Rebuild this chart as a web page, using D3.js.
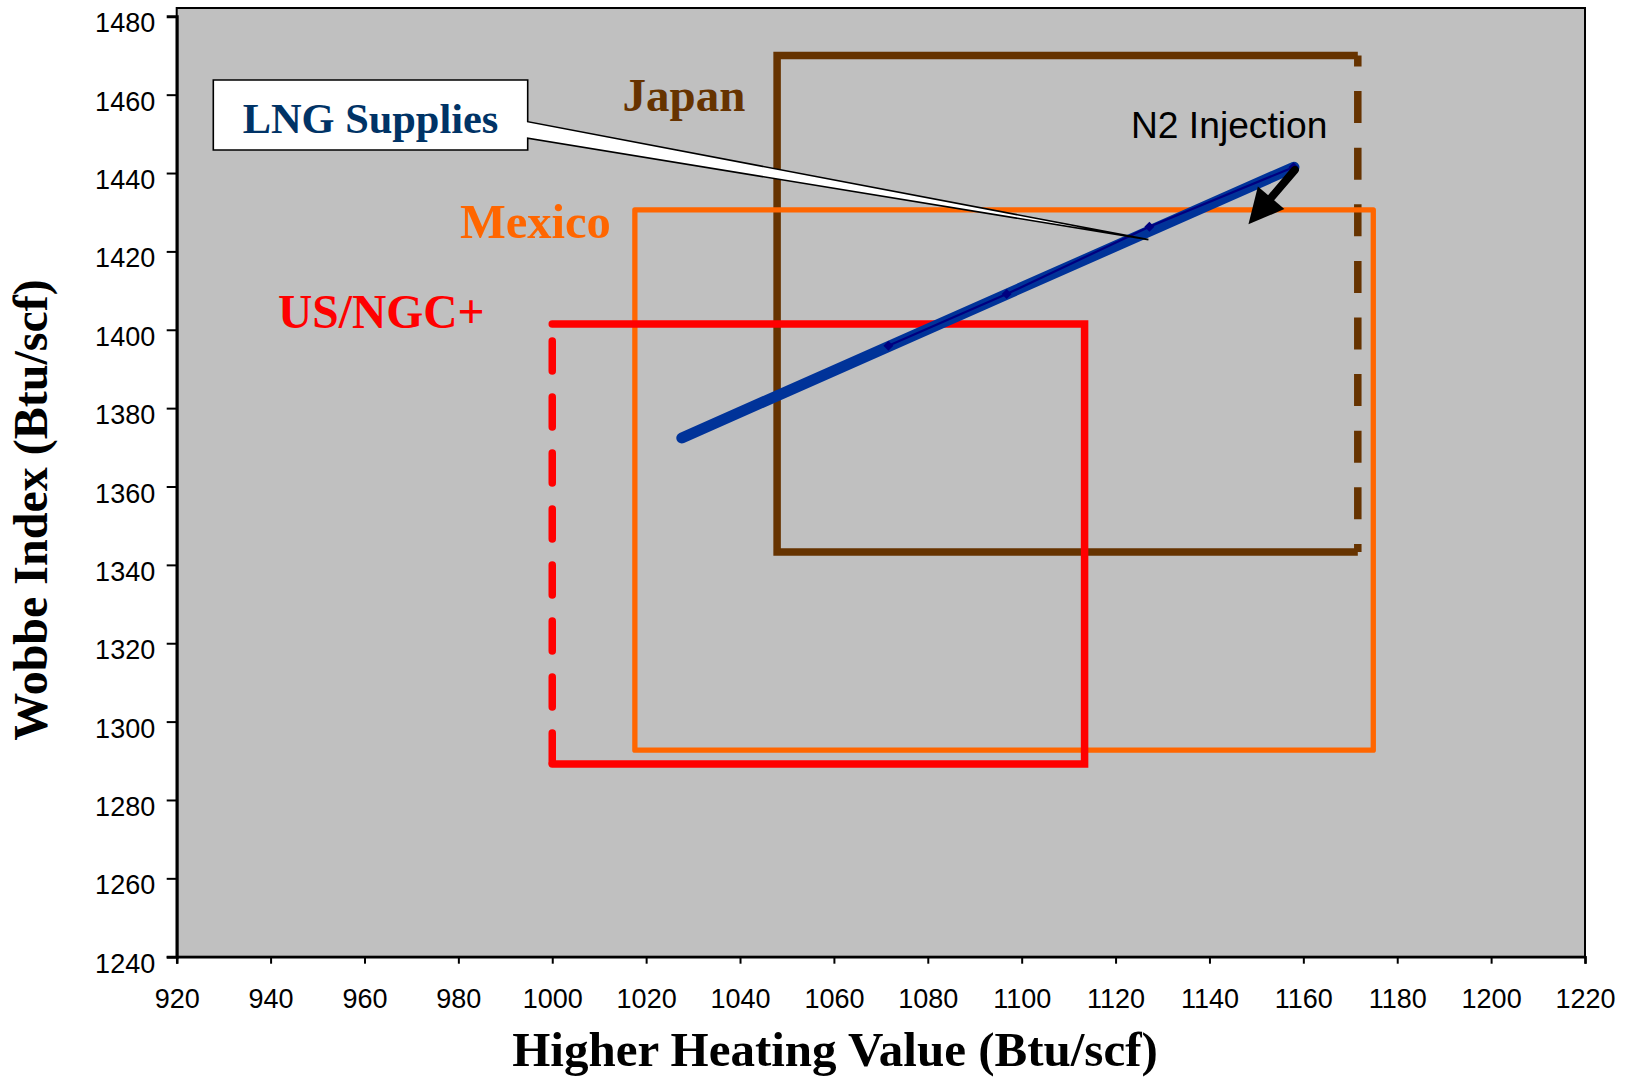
<!DOCTYPE html>
<html>
<head>
<meta charset="utf-8">
<script src="https://cdn.jsdelivr.net/npm/d3@7"></script>
<style>
  body { margin: 0; background: #ffffff; }
  svg { display: block; }
</style>
</head>
<body>
<svg id="chart" width="1627" height="1077"></svg>
<script>
// Axis tick values
const hhvTicks = [920, 940, 960, 980, 1000, 1020, 1040, 1060, 1080, 1100, 1120, 1140, 1160, 1180, 1200, 1220];
const wobbeTicks = [1240, 1260, 1280, 1300, 1320, 1340, 1360, 1380, 1400, 1420, 1440, 1460, 1480];

// Interchangeability windows: [min, max] of HHV and Wobbe index
const usHHV = [1000, 1113.4];
const usWobbe = [1289.2, 1401.5];
const mexicoHHV = [1017.6, 1174.9];
const mexicoWobbe = [1292.7, 1430.6];
const japanHHV = [1047.9, 1171.6];
const japanWobbe = [1343.3, 1470];

// LNG supply band (end points) and individual supply points
const lngHHV = [1027.6, 1158];
const lngWobbe = [1372.4, 1441.5];
const lngPointHHV = [1071.6, 1096.8, 1127.2, 1157.9];
const lngPointWobbe = [1395.9, 1409.1, 1426.3, 1441.5];

// Annotations (data coordinates)
const n2From = [1158.2, 1440.8];
const n2To = [1148.3, 1426.9];
const calloutTip = [1127, 1423];

const colors = {
  plot: "#c0c0c0",
  us: "#ff0000",
  mexico: "#ff6600",
  japan: "#663300",
  lng: "#003399",
  lngPts: "#000080",
  lngText: "#003366"
};

const svg = d3.select("#chart");
const plot = { left: 176.7, right: 1585, top: 8, bottom: 956.7 };

const x = d3.scaleLinear().domain([920, 1220]).range([plot.left, plot.right]);
const y = d3.scaleLinear().domain([1240, 1480]).range([plot.bottom, 16.3]);

// Plot area
svg.append("rect")
  .attr("x", plot.left).attr("y", plot.top)
  .attr("width", plot.right - plot.left).attr("height", plot.bottom - plot.top)
  .attr("fill", colors.plot)
  .attr("stroke", "#000").attr("stroke-width", 2);

// Axes
const xAxis = d3.axisBottom(x).tickValues(hhvTicks).tickSize(7).tickPadding(0).tickFormat(d3.format("d"));
const gx = svg.append("g").attr("transform", `translate(0,${plot.bottom})`).call(xAxis);
gx.select(".domain").attr("stroke", "#000").attr("stroke-width", 2.5);
gx.selectAll(".tick line").attr("stroke", "#000").attr("stroke-width", 2);
gx.selectAll(".tick text")
  .attr("y", 51.6).attr("dy", null)
  .attr("font-family", "'Liberation Sans', Arial, sans-serif")
  .attr("font-size", 27).attr("fill", "#000");

const yAxis = d3.axisLeft(y).tickValues(wobbeTicks).tickSize(10).tickPadding(0).tickFormat(d3.format("d"));
const gy = svg.append("g").attr("transform", `translate(${plot.left},0)`).call(yAxis);
gy.select(".domain").attr("stroke", "#000").attr("stroke-width", 3);
gy.selectAll(".tick line").attr("stroke", "#000").attr("stroke-width", 2);
gy.selectAll(".tick").filter(d => d === 1480).select("line").remove();
gy.selectAll(".tick text")
  .attr("x", -21.5).attr("dy", null).attr("y", 15.5)
  .attr("font-family", "'Liberation Sans', Arial, sans-serif")
  .attr("font-size", 27).attr("fill", "#000");

// Axis titles
svg.append("text")
  .attr("x", 835).attr("y", 1066)
  .attr("text-anchor", "middle")
  .attr("font-family", "'Liberation Serif', 'Times New Roman', serif")
  .attr("font-weight", "bold").attr("font-size", 49)
  .text("Higher Heating Value (Btu/scf)");

svg.append("text")
  .attr("transform", "translate(47,510) rotate(-90)")
  .attr("text-anchor", "middle")
  .attr("font-family", "'Liberation Serif', 'Times New Roman', serif")
  .attr("font-weight", "bold").attr("font-size", 48)
  .text("Wobbe Index (Btu/scf)");

const line = d3.line().x(d => x(d[0])).y(d => y(d[1]));

// Japan window: solid on three sides, dashed upper HHV limit
svg.append("path")
  .attr("d", line([[japanHHV[1], japanWobbe[1]], [japanHHV[0], japanWobbe[1]], [japanHHV[0], japanWobbe[0]], [japanHHV[1], japanWobbe[0]]]))
  .attr("fill", "none").attr("stroke", colors.japan).attr("stroke-width", 7.5)
  .attr("stroke-linejoin", "miter");
svg.append("path")
  .attr("d", line([[japanHHV[1], japanWobbe[1]], [japanHHV[1], japanWobbe[0]]]))
  .attr("fill", "none").attr("stroke", colors.japan).attr("stroke-width", 7.5)
  .attr("stroke-dasharray", "32,24.6").attr("stroke-dashoffset", 21);

// Mexico window
svg.append("path")
  .attr("d", line([[mexicoHHV[0], mexicoWobbe[1]], [mexicoHHV[1], mexicoWobbe[1]], [mexicoHHV[1], mexicoWobbe[0]], [mexicoHHV[0], mexicoWobbe[0]]]) + "Z")
  .attr("fill", "none").attr("stroke", colors.mexico).attr("stroke-width", 5.3)
  .attr("stroke-linejoin", "round");

// US/NGC+ window: dashed lower HHV limit
svg.append("path")
  .attr("d", line([[usHHV[0], usWobbe[1]], [usHHV[1], usWobbe[1]], [usHHV[1], usWobbe[0]], [usHHV[0], usWobbe[0]]]))
  .attr("fill", "none").attr("stroke", colors.us).attr("stroke-width", 7.5)
  .attr("stroke-linejoin", "miter").attr("stroke-linecap", "round");
svg.append("path")
  .attr("d", line([[usHHV[0], usWobbe[1]], [usHHV[0], usWobbe[0]]]))
  .attr("fill", "none").attr("stroke", colors.us).attr("stroke-width", 7.5)
  .attr("stroke-linecap", "round")
  .attr("stroke-dasharray", "30,26").attr("stroke-dashoffset", 39);

// LNG supply band
svg.append("path")
  .attr("d", line(lngHHV.map((h, i) => [h, lngWobbe[i]])))
  .attr("fill", "none").attr("stroke", colors.lng).attr("stroke-width", 11)
  .attr("stroke-linecap", "round");

const lngPts = lngPointHHV.map((h, i) => [h, lngPointWobbe[i]]);
svg.append("path")
  .attr("d", line(lngPts))
  .attr("fill", "none").attr("stroke", colors.lngPts).attr("stroke-width", 2.2);
svg.append("g").selectAll("path").data(lngPts).join("path")
  .attr("transform", d => `translate(${x(d[0])},${y(d[1])})`)
  .attr("d", "M0,-5L5,0L0,5L-5,0Z")
  .attr("fill", colors.lngPts);

// Window labels
const serif = "'Liberation Serif', 'Times New Roman', serif";
svg.append("text").attr("x", 622.5).attr("y", 111)
  .attr("font-family", serif).attr("font-weight", "bold").attr("font-size", 47)
  .attr("fill", colors.japan).text("Japan");
svg.append("text").attr("x", 460).attr("y", 238)
  .attr("font-family", serif).attr("font-weight", "bold").attr("font-size", 48.5)
  .attr("fill", colors.mexico).text("Mexico");
svg.append("text").attr("x", 278).attr("y", 328)
  .attr("font-family", serif).attr("font-weight", "bold").attr("font-size", 47.5)
  .attr("fill", colors.us).text("US/NGC+");

// LNG Supplies callout
const box = { x0: 213.3, x1: 527.7, y0: 80, y1: 150, w0: 121.7, w1: 138.3 };
const tx = x(calloutTip[0]), ty = y(calloutTip[1]);
svg.append("path")
  .attr("d", `M${box.x0},${box.y0}H${box.x1}V${box.w0}L${tx},${ty}L${box.x1},${box.w1}V${box.y1}H${box.x0}Z`)
  .attr("fill", "#ffffff").attr("stroke", "#000").attr("stroke-width", 1.6)
  .attr("stroke-linejoin", "miter");
svg.append("text").attr("x", (box.x0 + box.x1) / 2).attr("y", 132.7)
  .attr("text-anchor", "middle")
  .attr("font-family", serif).attr("font-weight", "bold").attr("font-size", 42.4)
  .attr("fill", colors.lngText).text("LNG Supplies");

// N2 injection arrow
svg.append("text").attr("x", 1131).attr("y", 138.3)
  .attr("font-family", "'Liberation Sans', Arial, sans-serif").attr("font-size", 37.2)
  .attr("fill", "#000").text("N2 Injection");

const ax0 = x(n2From[0]), ay0 = y(n2From[1]);
const ax1 = x(n2To[0]), ay1 = y(n2To[1]);
const len = Math.hypot(ax1 - ax0, ay1 - ay0);
const ux = (ax1 - ax0) / len, uy = (ay1 - ay0) / len;
const headLen = 35, headHalf = 17.4;
const bx = ax1 - ux * headLen, by = ay1 - uy * headLen;
svg.append("line")
  .attr("x1", ax0).attr("y1", ay0).attr("x2", bx + ux * 2).attr("y2", by + uy * 2)
  .attr("stroke", "#000").attr("stroke-width", 8).attr("stroke-linecap", "round");
svg.append("path")
  .attr("d", `M${ax1},${ay1}L${bx - uy * headHalf},${by + ux * headHalf}L${bx + uy * headHalf},${by - ux * headHalf}Z`)
  .attr("fill", "#000");
</script>
</body>
</html>
